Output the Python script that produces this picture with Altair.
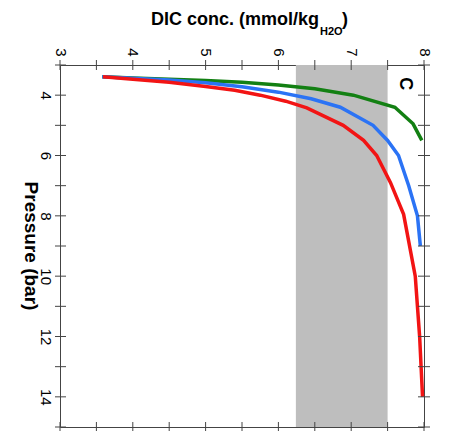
import altair as alt
import pandas as pd

# ---- data ----
green_dic = [3.58, 4.0, 4.5, 5.0, 5.5, 6.0, 6.5, 7.03, 7.6, 7.85, 7.97]
green_p = [3.39, 3.43, 3.47, 3.51, 3.57, 3.66, 3.79, 4.0, 4.4, 4.95, 5.5]

blue_dic = [3.58, 4.0, 4.5, 5.0, 5.5, 6.0, 6.45, 6.85, 7.30, 7.50, 7.65, 7.79, 7.91, 7.95]
blue_p = [3.39, 3.44, 3.50, 3.59, 3.72, 3.9, 4.12, 4.4, 5.0, 5.5, 6.0, 7.0, 8.0, 9.0]

red_dic = [3.59, 4.0, 4.5, 5.0, 5.4, 5.75, 6.1, 6.39, 6.89, 7.17, 7.35, 7.54, 7.72, 7.88, 7.94, 7.98]
red_p = [3.39, 3.47, 3.57, 3.71, 3.84, 4.0, 4.2, 4.42, 5.0, 5.5, 6.0, 6.9, 7.95, 10.0, 12.0, 14.0]

band_lo = [6.24]
band_hi = [7.5]

x_tick_values = [3, 3.5, 4, 4.5, 5, 5.5, 6, 6.5, 7, 7.5, 8]
x_label_values = [3, 4, 5, 6, 7, 8]
y_tick_values = [3, 4, 5, 6, 7, 8, 9, 10, 11, 12, 13, 14, 15]
y_label_values = [4, 6, 8, 10, 12, 14]

series_names = ["green", "blue", "red"]
series_colors = ["#138013", "#2b73f5", "#f21414"]

FONT = "Liberation Sans"
W, H = 364, 362

rows = []
for name, xs_, ys_ in [("green", green_dic, green_p), ("blue", blue_dic, blue_p), ("red", red_dic, red_p)]:
    for i, (a, b) in enumerate(zip(xs_, ys_)):
        rows.append({"series": name, "dic": a, "p": b, "idx": i})
lines_df = pd.DataFrame(rows)

xs = alt.Scale(domain=[3, 8], nice=False, zero=False)
ys = alt.Scale(domain=[3, 15], nice=False, zero=False, reverse=True)

band = alt.Chart(pd.DataFrame({"lo": band_lo, "hi": band_hi})).mark_rect(color="#bebebe").encode(
    x=alt.X("lo:Q", scale=xs, axis=alt.Axis(orient="top", values=x_label_values, ticks=False, domain=False,
                                            grid=False, labelAngle=90, labelAlign="right", labelBaseline="middle",
                                            labelPadding=9, labelFontSize=15, labelFont=FONT, labelColor="#000",
                                            title=None, format="d")),
    x2="hi:Q",
    y=alt.value(0),
    y2=alt.value(H),
)

lines = alt.Chart(lines_df).mark_line(strokeWidth=3.5, strokeJoin="miter", clip=False).encode(
    x=alt.X("dic:Q", scale=xs),
    y=alt.Y("p:Q", scale=ys, axis=alt.Axis(orient="left", values=y_label_values, ticks=False, domain=False,
                                           grid=False, labelAngle=90, labelAlign="center", labelBaseline="top",
                                           labelPadding=8, labelFontSize=15, labelFont=FONT, labelColor="#000",
                                           title=None)),
    color=alt.Color("series:N", scale=alt.Scale(domain=series_names, range=series_colors), legend=None),
    order="idx:Q",
    detail="series:N",
)

xt = pd.DataFrame({"v": x_tick_values})
yt = pd.DataFrame({"v": y_tick_values})
tick_col = "#444444"
xtick_top = alt.Chart(xt).mark_rule(color=tick_col, strokeWidth=1).encode(
    x=alt.X("v:Q", scale=xs), y=alt.value(-5), y2=alt.value(5))
xtick_bot = alt.Chart(xt).mark_rule(color=tick_col, strokeWidth=1).encode(
    x=alt.X("v:Q", scale=xs), y=alt.value(H - 5), y2=alt.value(H + 4))
ytick_left = alt.Chart(yt).mark_rule(color=tick_col, strokeWidth=1).encode(
    y=alt.Y("v:Q", scale=ys), x=alt.value(-5), x2=alt.value(6))
ytick_right = alt.Chart(yt).mark_rule(color=tick_col, strokeWidth=1).encode(
    y=alt.Y("v:Q", scale=ys), x=alt.value(W - 6), x2=alt.value(W + 6))

label_c = alt.Chart(pd.DataFrame({"x": [7.74], "y": [3.62], "t": ["C"]})).mark_text(
    angle=90, font=FONT, fontSize=18, fontWeight="bold", align="center", baseline="middle", color="#000"
).encode(x=alt.X("x:Q", scale=xs), y=alt.Y("y:Q", scale=ys), text="t:N")

title_main = alt.Chart(pd.DataFrame({"t": ["DIC conc. (mmol/kg"]})).mark_text(
    font=FONT, fontSize=18, fontWeight="bold", align="right", baseline="middle", color="#000"
).encode(x=alt.value(259), y=alt.value(-45), text="t:N")
title_sub = alt.Chart(pd.DataFrame({"t": ["H2O"]})).mark_text(
    font=FONT, fontSize=11, fontWeight="bold", align="left", baseline="middle", color="#000"
).encode(x=alt.value(260), y=alt.value(-33), text="t:N")
title_close = alt.Chart(pd.DataFrame({"t": [")"]})).mark_text(
    font=FONT, fontSize=18, fontWeight="bold", align="left", baseline="middle", color="#000"
).encode(x=alt.value(282), y=alt.value(-45), text="t:N")
title_y = alt.Chart(pd.DataFrame({"t": ["Pressure (bar)"]})).mark_text(
    font=FONT, fontSize=19, fontWeight="bold", align="center", baseline="middle", color="#000", angle=90
).encode(x=alt.value(-29), y=alt.value(H / 2), text="t:N")

chart = alt.layer(
    band, lines, xtick_top, xtick_bot, ytick_left, ytick_right, label_c,
    title_main, title_sub, title_close, title_y
).properties(
    width=W, height=H,
    autosize=alt.AutoSizeParams(type="none"),
    padding={"left": 60, "top": 65, "right": 25, "bottom": 8},
    background="white",
).configure_view(stroke="#444444", strokeWidth=1)

chart.save("out.html", embed_options={"renderer": "svg", "actions": False})
